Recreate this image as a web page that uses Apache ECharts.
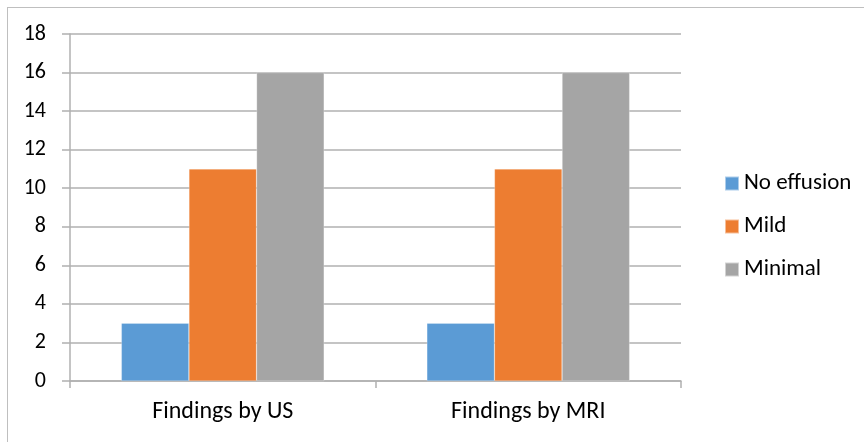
<!DOCTYPE html>
<html>
<head>
<meta charset="utf-8">
<script src="https://cdn.jsdelivr.net/npm/echarts@6/dist/echarts.min.js"></script>
<style>
  html, body { margin: 0; padding: 0; background: #fff; }
  #frame { position: absolute; left: 7px; top: 7px; width: 862px; height: 440px; border: 1px solid #bfbfbf; box-sizing: border-box; }
  #chart { position: absolute; left: 0; top: 0; width: 864px; height: 442px; }
</style>
</head>
<body>
<div id="frame"></div>
<div id="chart"></div>
<script>
const categories = ['Findings by US', 'Findings by MRI'];
const noEffusion = [3, 3];
const mild = [11, 11];
const minimal = [16, 16];
const seriesNames = ['No effusion', 'Mild', 'Minimal'];
const colors = ['#5B9BD5', '#ED7D31', '#A5A5A5'];

const FONT = 'Carlito, "Open Sans", "Liberation Sans", sans-serif';
const chart = echarts.init(document.getElementById('chart'), null, { renderer: 'canvas' });

const mkSeries = (name, data, i) => ({
  name, type: 'bar', data,
  barWidth: 67.6, barGap: '0%',
  itemStyle: { color: colors[i], borderColor: 'rgba(255,255,255,0.5)', borderWidth: 0.5 },
  emphasis: { disabled: true }
});

chart.setOption({
  animation: false,
  textStyle: { fontFamily: FONT },
  grid: { left: 70, right: 183, top: 34, bottom: 61 },
  legend: {
    orient: 'vertical', left: 719, top: 167,
    itemWidth: 14, itemHeight: 14, itemGap: 20, icon: 'rect',
    textStyle: { fontSize: 23, color: '#000', fontFamily: FONT },
    data: seriesNames
  },
  xAxis: {
    type: 'category', data: categories,
    axisLine: { lineStyle: { color: '#b0b0b0', width: 1.5 } },
    axisTick: { show: true, length: 7, lineStyle: { color: '#b0b0b0', width: 1.5 } },
    axisLabel: { fontSize: 24, color: '#000', margin: 19, fontFamily: FONT }
  },
  yAxis: {
    type: 'value', min: 0, max: 18, interval: 2,
    axisLine: { show: true, lineStyle: { color: '#b0b0b0', width: 1.5 } },
    axisTick: { show: true, length: 8, inside: false, lineStyle: { color: '#b0b0b0', width: 1.5 } },
    splitLine: { lineStyle: { color: '#b0b0b0', width: 1.5 } },
    axisLabel: { fontSize: 22, color: '#000', margin: 24, fontFamily: FONT }
  },
  series: [
    mkSeries(seriesNames[0], noEffusion, 0),
    mkSeries(seriesNames[1], mild, 1),
    mkSeries(seriesNames[2], minimal, 2)
  ]
});
</script>
</body>
</html>
